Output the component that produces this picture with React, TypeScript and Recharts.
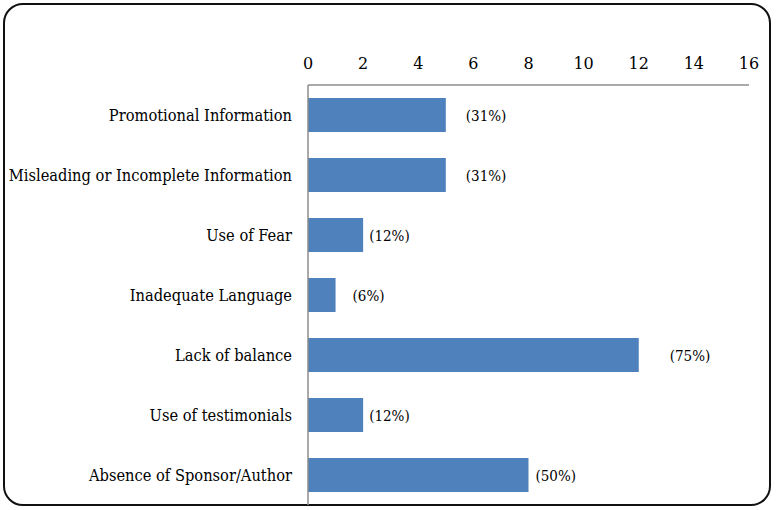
import { Bar, BarChart, LabelList, XAxis, YAxis } from "recharts";

const CATEGORIES = [
	"Promotional Information",
	"Misleading or Incomplete Information",
	"Use of Fear",
	"Inadequate Language",
	"Lack of balance",
	"Use of testimonials",
	"Absence of Sponsor/Author",
];

const COUNTS = [5, 5, 2, 1, 12, 2, 8];

const PERCENT_LABELS = ["(31%)", "(31%)", "(12%)", "(6%)", "(75%)", "(12%)", "(50%)"];

const X_TICKS = [0, 2, 4, 6, 8, 10, 12, 14, 16];

// gap between bar end and its label, as placed in the original
const LABEL_GAPS = [20, 20, 6, 17, 31, 6, 7];

const data = CATEGORIES.map((name, i) => ({
	name,
	count: COUNTS[i],
	pct: PERCENT_LABELS[i],
}));

const FONT = "DejaVu Serif Condensed";

function PctLabel(props: any) {
	const { x, y, width, height, index, value } = props;
	return (
		<text
			x={x + width + LABEL_GAPS[index]}
			y={y + height / 2 + 2}
			dominantBaseline="middle"
			fontFamily={FONT}
			fontSize={15}
			fill="#000"
		>
			{value}
		</text>
	);
}

export default function App() {
	return (
		<div style={{ position: "relative", width: 776, height: 510 }}>
			<style>{"body{margin:0}"}</style>
			<div
				style={{
					position: "absolute",
					left: 3,
					top: 3,
					width: 764,
					height: 499,
					border: "2px solid #111",
					borderRadius: 20,
				}}
			/>
			<BarChart
				width={776}
				height={510}
				data={data}
				layout="vertical"
				margin={{ top: 0, right: 27, bottom: 5, left: 0 }}
				style={{ position: "absolute", left: 0, top: 0 }}
			>
				<XAxis
					type="number"
					orientation="top"
					domain={[0, 16]}
					ticks={X_TICKS}
					height={85}
					axisLine={{ stroke: "#8c8c8c", strokeWidth: 1.5 }}
					tickLine={false}
					tickMargin={10}
					tick={{ fill: "#000", fontSize: 16, fontFamily: "DejaVu Serif" }}
				/>
				<YAxis
					type="category"
					dataKey="name"
					width={308}
					axisLine={{ stroke: "#8c8c8c", strokeWidth: 1.5 }}
					tickLine={false}
					tickMargin={10}
					tick={{ fill: "#000", fontSize: 16.3, fontFamily: FONT }}
					interval={0}
				/>
				<Bar dataKey="count" fill="#4F81BD" barSize={34} isAnimationActive={false}>
					<LabelList dataKey="pct" content={<PctLabel />} />
				</Bar>
			</BarChart>
		</div>
	);
}
